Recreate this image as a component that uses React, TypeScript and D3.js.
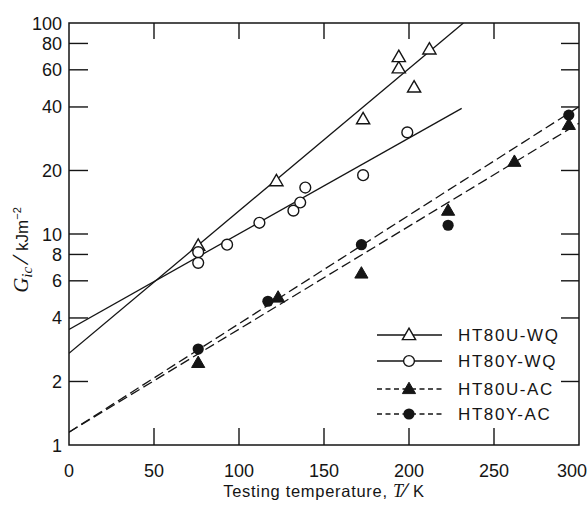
import React from "react";
import * as d3 from "d3";

// ---- data ----
const uwqT = [76, 122, 173, 194, 194, 203, 212];
const uwqG = [8.8, 17.8, 35, 61, 69, 49.5, 75];

const ywqT = [76, 76, 93, 112, 132, 136, 139, 173, 199];
const ywqG = [8.2, 7.3, 8.9, 11.3, 12.9, 14.1, 16.6, 19.0, 30.3];

const uacT = [76, 123, 172, 223, 262, 294];
const uacG = [2.45, 5.0, 6.5, 12.9, 22.0, 32.9];

const yacT = [76, 117, 172, 223, 294];
const yacG = [2.85, 4.8, 8.9, 11.0, 36.6];

// fitted lines (endpoints)
const uwqLineT = [0, 232];
const uwqLineG = [2.72, 100];
const ywqLineT = [0, 231];
const ywqLineG = [3.53, 39.4];
const uacLineT = [0, 300];
const uacLineG = [1.15, 33.5];
const yacLineT = [0, 300];
const yacLineG = [1.15, 40.1];

const xTicks = [0, 50, 100, 150, 200, 250, 300];
const yTicks = [1, 2, 4, 6, 8, 10, 20, 40, 60, 80, 100];
const rightTicks = [2, 4, 6, 8, 10, 20, 40, 60, 80];
const legendLabels = ["HT80U-WQ", "HT80Y-WQ", "HT80U-AC", "HT80Y-AC"];

const W = 588;
const H = 508;
const L = 69, R = 579, T = 23, B = 445;
const FONT = "'Liberation Sans', Arial, Helvetica, sans-serif";
const SERIF = "'Liberation Serif', 'DejaVu Serif', serif";
const INK = "#151515";

const x = d3.scaleLinear().domain([0, 300]).range([L, R]);
const y = d3.scaleLog().domain([1, 100]).range([B, T]);

const zip = (a: number[], b: number[]) => a.map((v, i) => [v, b[i]] as [number, number]);
const line = d3
  .line<[number, number]>()
  .x((d) => x(d[0]))
  .y((d) => y(d[1]));

const triPath = "M0,-6.8L6.6,4.6L-6.6,4.6Z";

function Marker({ kind, cx, cy }: { kind: string; cx: number; cy: number }) {
  if (kind === "otri")
    return <path d={triPath} transform={`translate(${cx},${cy})`} fill="white" stroke={INK} strokeWidth={1.4} />;
  if (kind === "ocirc")
    return <circle cx={cx} cy={cy} r={5.4} fill="white" stroke={INK} strokeWidth={1.4} />;
  if (kind === "ftri")
    return <path d={triPath} transform={`translate(${cx},${cy})`} fill={INK} stroke={INK} strokeWidth={1} />;
  return <circle cx={cx} cy={cy} r={5.6} fill={INK} />;
}

const series = [
  { T: uwqT, G: uwqG, lt: uwqLineT, lg: uwqLineG, kind: "otri", dash: undefined, ldash: undefined },
  { T: ywqT, G: ywqG, lt: ywqLineT, lg: ywqLineG, kind: "ocirc", dash: undefined, ldash: undefined },
  { T: uacT, G: uacG, lt: uacLineT, lg: uacLineG, kind: "ftri", dash: "10,4.5", ldash: "5,3.5" },
  { T: yacT, G: yacG, lt: yacLineT, lg: yacLineG, kind: "fcirc", dash: "10,4.5", ldash: "5,3.5" },
];

export default function App() {
  return (
    <svg
      width={W}
      height={H}
      style={{ position: "absolute", left: 0, top: 0, background: "white" }}
      fontFamily={FONT}
    >
      <rect width={W} height={H} fill="white" />
      <defs>
        <clipPath id="plot">
          <rect x={L} y={T} width={R - L} height={B - T} />
        </clipPath>
      </defs>

      {/* fit lines */}
      <g clipPath="url(#plot)">
        {series.map((s, i) => (
          <path
            key={i}
            d={line(zip(s.lt, s.lg)) || ""}
            fill="none"
            stroke={INK}
            strokeWidth={1.3}
            strokeDasharray={s.dash}
          />
        ))}
      </g>

      {/* frame */}
      <rect x={L} y={T} width={R - L} height={B - T} fill="none" stroke={INK} strokeWidth={1.5} />

      {/* ticks */}
      {xTicks.slice(1, -1).map((t) => (
        <g key={"xt" + t}>
          <line x1={x(t)} x2={x(t)} y1={B} y2={B - 17} stroke={INK} strokeWidth={1.4} />
          <line x1={x(t)} x2={x(t)} y1={T} y2={T + 16} stroke={INK} strokeWidth={1.4} />
        </g>
      ))}
      {yTicks.slice(1, -1).map((t) => (
        <line key={"yl" + t} x1={L} x2={L + 19} y1={y(t)} y2={y(t)} stroke={INK} strokeWidth={1.4} />
      ))}
      {rightTicks.map((t) => (
        <line key={"yr" + t} x1={R} x2={R - 18} y1={y(t)} y2={y(t)} stroke={INK} strokeWidth={1.4} />
      ))}

      {/* tick labels */}
      {xTicks.map((t) => (
        <text
          key={"xl" + t}
          x={t === 300 ? x(t) - 7 : x(t)}
          y={477}
          fontSize={18}
          textAnchor="middle"
          fill={INK}
        >
          {t}
        </text>
      ))}
      {yTicks.map((t) => (
        <text key={"ylb" + t} x={62} y={y(t) + 6.5} fontSize={18} textAnchor="end" fill={INK}>
          {t}
        </text>
      ))}

      {/* markers */}
      {series.map((s, i) =>
        s.T.map((tv, j) => <Marker key={i + "-" + j} kind={s.kind} cx={x(tv)} cy={y(s.G[j])} />)
      )}

      {/* legend */}
      {series.map((s, i) => {
        const ly = [335, 361, 389, 414][i];
        return (
          <g key={"lg" + i}>
            <line x1={377} x2={442} y1={ly} y2={ly} stroke={INK} strokeWidth={1.3} strokeDasharray={s.ldash} />
            <Marker kind={s.kind} cx={409} cy={ly} />
            <text x={458} y={ly + 6} fontSize={17} letterSpacing={1.6} fill={INK}>
              {legendLabels[i]}
            </text>
          </g>
        );
      })}

      {/* x axis title */}
      <text x={(L + R) / 2} y={497} fontSize={16.5} textAnchor="middle" fill={INK} letterSpacing={0.7}>
        Testing temperature,{" "}
        <tspan fontFamily={SERIF} fontStyle="italic" fontSize={18}>
          T
        </tspan>
        <tspan fontSize={20}>∕</tspan> K
      </text>

      {/* y axis title */}
      <text transform="translate(28,250) rotate(-90)" fontSize={17} textAnchor="middle" fill={INK}>
        <tspan fontFamily={SERIF} fontStyle="italic" fontSize={21}>
          G
        </tspan>
        <tspan fontFamily={SERIF} fontStyle="italic" fontSize={15} dy={4}>
          ic
        </tspan>
        <tspan dy={-4} fontSize={22}> ∕ </tspan>
        <tspan>kJm</tspan>
        <tspan fontSize={11} dy={-7}>−2</tspan>
      </text>
    </svg>
  );
}
